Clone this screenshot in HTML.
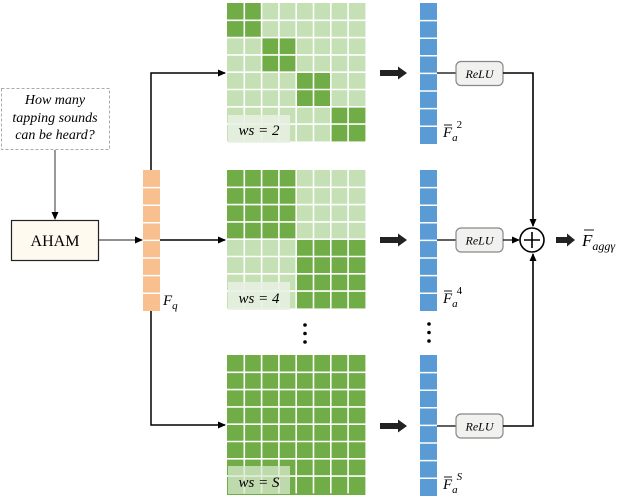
<!DOCTYPE html>
<html><head><meta charset="utf-8"><style>
html,body{margin:0;padding:0;background:#fff;}
svg{display:block;}
text{font-family:"Liberation Serif",serif;}
</style></head><body>
<svg width="626" height="498" viewBox="0 0 626 498" xmlns="http://www.w3.org/2000/svg">
<defs>
<marker id="ah" markerWidth="8" markerHeight="8" refX="7" refY="4" orient="auto" markerUnits="userSpaceOnUse">
<path d="M0,0.5 L8,4 L0,7.5 Z" fill="#000"/></marker>
<g id="grid">
<path d="M17.3,0V138.4M34.6,0V138.4M51.9,0V138.4M69.2,0V138.4M86.5,0V138.4M103.8,0V138.4M121.1,0V138.4M0,17.3H138.4M0,34.6H138.4M0,51.9H138.4M0,69.2H138.4M0,86.5H138.4M0,103.8H138.4M0,121.1H138.4" stroke="#fff" stroke-width="1.6"/>
</g>
<g id="col">
<path d="M0,17.6H17M0,35.2H17M0,52.8H17M0,70.4H17M0,88H17M0,105.6H17M0,123.2H17" stroke="#fff" stroke-width="1.5"/>
</g>
<g id="tarr"><path d="M0,-3 H18 V-6.5 L27,0 L18,6.5 V3 H0 Z" fill="#222"/></g>
</defs>

<rect x="1.5" y="88.5" width="108" height="61" fill="#fff" stroke="#aaa" stroke-dasharray="3,2"/>
<text x="55" y="104" font-size="14" font-style="italic" text-anchor="middle">How many</text>
<text x="55" y="122" font-size="14" font-style="italic" text-anchor="middle">tapping sounds</text>
<text x="55" y="139" font-size="14" font-style="italic" text-anchor="middle">can be heard?</text>
<line x1="55" y1="150" x2="55" y2="219" stroke="#333" stroke-width="1" marker-end="url(#ah)"/>

<rect x="11.5" y="220.5" width="87" height="40" fill="#fffaf0" stroke="#222" stroke-width="1.2"/>
<text x="55" y="246" font-size="16" text-anchor="middle">AHAM</text>
<line x1="99" y1="240" x2="142" y2="240" stroke="#222" stroke-width="1" marker-end="url(#ah)"/>

<rect x="143" y="170" width="17" height="141" fill="#f8bf8f"/>
<g transform="translate(143,170)"><use href="#col"/></g>
<text x="163" y="305" font-size="15" font-style="italic">F<tspan font-size="11" dy="4">q</tspan></text>

<path d="M151,170 V73 H225" fill="none" stroke="#000" stroke-width="1.5" marker-end="url(#ah)"/>
<path d="M160,240 H225" fill="none" stroke="#000" stroke-width="1.5" marker-end="url(#ah)"/>
<path d="M151,311 V425 H225" fill="none" stroke="#000" stroke-width="1.5" marker-end="url(#ah)"/>

<g transform="translate(227,3)">
<rect width="138.4" height="138.4" fill="#c5e0b4"/>
<rect x="0" y="0" width="34.6" height="34.6" fill="#70ad47"/>
<rect x="34.6" y="34.6" width="34.6" height="34.6" fill="#70ad47"/>
<rect x="69.2" y="69.2" width="34.6" height="34.6" fill="#70ad47"/>
<rect x="103.8" y="103.8" width="34.6" height="34.6" fill="#70ad47"/>
<use href="#grid"/>
<rect x="1" y="112" width="62" height="28" fill="#e9f0e4" opacity="0.85"/>
<text x="32" y="132" font-size="15" font-style="italic" text-anchor="middle">ws = 2</text>
</g>

<g transform="translate(227,170)">
<rect width="138.4" height="138.4" fill="#c5e0b4"/>
<rect x="0" y="0" width="69.2" height="69.2" fill="#70ad47"/>
<rect x="69.2" y="69.2" width="69.2" height="69.2" fill="#70ad47"/>
<use href="#grid"/>
<rect x="1" y="112" width="62" height="28" fill="#e9f0e4" opacity="0.85"/>
<text x="32" y="133" font-size="15" font-style="italic" text-anchor="middle">ws = 4</text>
</g>

<g transform="translate(227,355)">
<rect width="138.4" height="140" fill="#70ad47"/>
<use href="#grid"/>
<rect x="1" y="111" width="62" height="28" fill="#d8e8cc" opacity="0.75"/>
<text x="32" y="132" font-size="15" font-style="italic" text-anchor="middle">ws = S</text>
</g>

<circle cx="305" cy="325" r="1.8" fill="#000"/><circle cx="305" cy="333.5" r="1.8" fill="#000"/><circle cx="305" cy="342" r="1.8" fill="#000"/>
<circle cx="429" cy="324" r="1.8" fill="#000"/><circle cx="429" cy="332.5" r="1.8" fill="#000"/><circle cx="429" cy="341" r="1.8" fill="#000"/>

<g transform="translate(380,73)"><use href="#tarr"/></g>
<g transform="translate(380,240)"><use href="#tarr"/></g>
<g transform="translate(380,426)"><use href="#tarr"/></g>

<rect x="420" y="3" width="17" height="141" fill="#5b9bd5"/>
<g transform="translate(420,3)"><use href="#col"/></g>
<rect x="420" y="170" width="17" height="141" fill="#5b9bd5"/>
<g transform="translate(420,170)"><use href="#col"/></g>
<rect x="420" y="355" width="17" height="141" fill="#5b9bd5"/>
<g transform="translate(420,355)"><use href="#col"/></g>

<text x="443" y="137" font-size="15" font-style="italic">F<tspan font-size="11" dy="4">a</tspan><tspan font-size="11" dx="-1" dy="-13" font-style="normal">2</tspan></text>
<line x1="444" y1="125" x2="452" y2="125" stroke="#000" stroke-width="0.9"/>
<text x="443" y="303" font-size="15" font-style="italic">F<tspan font-size="11" dy="4">a</tspan><tspan font-size="11" dx="-1" dy="-13" font-style="normal">4</tspan></text>
<line x1="444" y1="291" x2="452" y2="291" stroke="#000" stroke-width="0.9"/>
<text x="443" y="489" font-size="15" font-style="italic">F<tspan font-size="11" dy="4">a</tspan><tspan font-size="11" dx="-1" dy="-13" font-style="italic">S</tspan></text>
<line x1="444" y1="477" x2="452" y2="477" stroke="#000" stroke-width="0.9"/>

<line x1="437" y1="73" x2="456" y2="73" stroke="#000" stroke-width="1.2"/>
<line x1="437" y1="240" x2="456" y2="240" stroke="#000" stroke-width="1.2"/>
<line x1="437" y1="426" x2="456" y2="426" stroke="#000" stroke-width="1.2"/>
<rect x="456" y="61.5" width="47" height="24" rx="5" fill="#f1f2ef" stroke="#888" stroke-width="1.2"/>
<text x="479.5" y="78" font-size="12" font-style="italic" text-anchor="middle">ReLU</text>
<rect x="456" y="228" width="47" height="24" rx="5" fill="#f1f2ef" stroke="#888" stroke-width="1.2"/>
<text x="479.5" y="244.5" font-size="12" font-style="italic" text-anchor="middle">ReLU</text>
<rect x="456" y="414" width="47" height="24" rx="5" fill="#f1f2ef" stroke="#888" stroke-width="1.2"/>
<text x="479.5" y="430.5" font-size="12" font-style="italic" text-anchor="middle">ReLU</text>

<path d="M503,73 H533 V226" fill="none" stroke="#000" stroke-width="1.6" marker-end="url(#ah)"/>
<path d="M503,426 H533 V254" fill="none" stroke="#000" stroke-width="1.6" marker-end="url(#ah)"/>
<line x1="503" y1="240" x2="519" y2="240" stroke="#000" stroke-width="1.2" marker-end="url(#ah)"/>
<circle cx="532" cy="240" r="12" fill="#fff" stroke="#000" stroke-width="1.6"/>
<path d="M524,240 H540 M532,232 V248" stroke="#000" stroke-width="1.6"/>

<g transform="translate(556,240)"><path d="M0,-3 H11 V-6.5 L19,0 L11,6.5 V3 H0 Z" fill="#222"/></g>
<text x="582" y="246" font-size="17" font-style="italic">F<tspan font-size="12" dy="4">aggγ</tspan></text>
<line x1="584" y1="230" x2="594" y2="230" stroke="#000" stroke-width="0.9"/>
</svg>
</body></html>
